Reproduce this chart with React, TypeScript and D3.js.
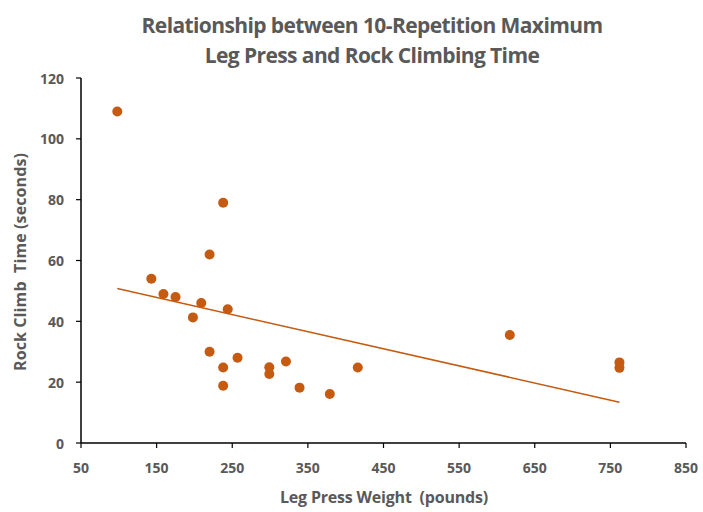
import React from "react";
import * as d3 from "d3";

// leg press weight (lb) vs rock climb time (s)
const legPress = [98, 238, 220, 143, 159, 175, 209, 244, 198, 220, 257, 238, 299, 299, 321, 238, 339, 379, 416, 617, 762, 762];
const climbTime = [109, 79, 62, 54, 49, 48, 46, 44, 41.3, 30, 28, 24.8, 24.9, 22.7, 26.8, 18.8, 18.2, 16.1, 24.8, 35.5, 26.5, 24.7];

const xTicks = [50, 150, 250, 350, 450, 550, 650, 750, 850];
const yTicks = [0, 20, 40, 60, 80, 100, 120];
const titleLines = ["Relationship between 10-Repetition Maximum", "Leg Press and Rock Climbing Time"];

const W = 703;
const H = 512;
const margin = { left: 81, right: 17, top: 78, bottom: 69 };
const color = "#C55A11";
const textColor = "#595959";
const font = "'Open Sans', 'Liberation Sans', sans-serif";

export default function App() {
  const xScale = d3.scaleLinear().domain([50, 850]).range([margin.left, W - margin.right]);
  const yScale = d3.scaleLinear().domain([0, 120]).range([H - margin.bottom, margin.top]);

  const points = legPress.map((x, i) => ({ x, y: climbTime[i] }));

  // least squares trendline
  const mx = d3.mean(legPress)!;
  const my = d3.mean(climbTime)!;
  const sxy = d3.sum(points, (p) => (p.x - mx) * (p.y - my));
  const sxx = d3.sum(points, (p) => (p.x - mx) ** 2);
  const slope = sxy / sxx;
  const intercept = my - slope * mx;
  const [xMin, xMax] = d3.extent(legPress) as [number, number];
  const trend = [
    { x: xMin, y: intercept + slope * xMin },
    { x: xMax, y: intercept + slope * xMax },
  ];
  const line = d3
    .line<{ x: number; y: number }>()
    .x((d) => xScale(d.x))
    .y((d) => yScale(d.y));

  const y0 = yScale(0);
  const x0 = xScale(50);

  return (
    <svg width={W} height={H} style={{ position: "absolute", left: 0, top: 0, background: "#fff" }}>
      {titleLines.map((t, i) => (
        <text
          key={i}
          x={372}
          y={33 + i * 30}
          textAnchor="middle"
          style={{ fontFamily: font, fontWeight: 700, fontSize: 21, fill: textColor, letterSpacing: -0.6 }}
        >
          {t}
        </text>
      ))}

      {/* axes */}
      <line x1={x0} x2={xScale(850)} y1={y0} y2={y0} stroke="#000" strokeWidth={1.5} />
      <line x1={x0} x2={x0} y1={y0} y2={yScale(120)} stroke="#000" strokeWidth={1.5} />
      {xTicks.map((t) => (
        <g key={t}>
          <line x1={xScale(t)} x2={xScale(t)} y1={y0} y2={y0 + 5} stroke="#000" strokeWidth={1.2} />
          <text
            x={xScale(t)}
            y={y0 + 30}
            textAnchor="middle"
            style={{ fontFamily: font, fontWeight: 700, fontSize: 14, fill: textColor }}
          >
            {t}
          </text>
        </g>
      ))}
      {yTicks.map((t) => (
        <g key={t}>
          <line x1={x0 - 5} x2={x0} y1={yScale(t)} y2={yScale(t)} stroke="#000" strokeWidth={1.2} />
          <text
            x={x0 - 17}
            y={yScale(t)}
            dy="0.4em"
            textAnchor="end"
            style={{ fontFamily: font, fontWeight: 700, fontSize: 14, fill: textColor }}
          >
            {t}
          </text>
        </g>
      ))}

      <text
        x={384}
        y={503}
        textAnchor="middle"
        style={{ fontFamily: font, fontWeight: 700, fontSize: 16, fill: textColor, whiteSpace: "pre", letterSpacing: -0.2 }}
      >
        {"Leg Press Weight  (pounds)"}
      </text>
      <text
        transform={`translate(26, 262) rotate(-90)`}
        textAnchor="middle"
        style={{ fontFamily: font, fontWeight: 700, fontSize: 16, fill: textColor, whiteSpace: "pre", letterSpacing: 0.1 }}
      >
        {"Rock Climb  Time (seconds)"}
      </text>

      <path d={line(trend) ?? ""} stroke={color} strokeWidth={1.5} fill="none" />
      {points.map((p, i) => (
        <circle key={i} cx={xScale(p.x)} cy={yScale(p.y)} r={5} fill={color} />
      ))}
    </svg>
  );
}
